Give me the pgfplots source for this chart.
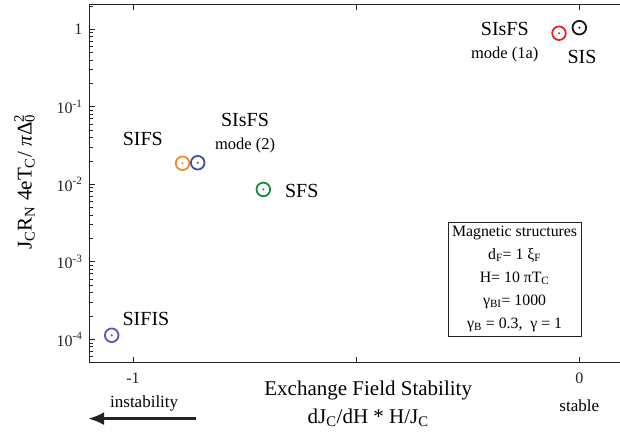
\documentclass[border=0pt]{standalone}
\usepackage{pgfplots}
\pgfplotsset{compat=1.18}
\usepackage{fontspec}
\setmainfont{Liberation Serif}
\usetikzlibrary{arrows.meta}

\definecolor{cSIS}{RGB}{25,25,25}
\definecolor{cSIsFSa}{RGB}{232,30,40}
\definecolor{cSIFS}{RGB}{242,140,40}
\definecolor{cSIsFSb}{RGB}{60,78,168}
\definecolor{cSFS}{RGB}{26,135,66}
\definecolor{cSIFIS}{RGB}{105,80,175}
\definecolor{ink}{RGB}{35,35,35}

% open circle with a dot in the centre
\pgfdeclareplotmark{odot}{%
  \pgfpathcircle{\pgfpointorigin}{\pgfplotmarksize}\pgfusepathqstroke
  \pgfpathcircle{\pgfpointorigin}{1.1pt}\pgfusepathqfill}

\newcommand{\lblfont}{\fontsize{20}{24}\selectfont}
\newcommand{\titlefont}{\fontsize{21}{25}\selectfont}
\newcommand{\modefont}{\fontsize{16.5}{20}\selectfont}
\newcommand{\tickfont}{\fontsize{16}{19}\selectfont}
\newcommand{\notefont}{\fontsize{17}{20}\selectfont}
\newcommand{\boxfont}{\fontsize{15.8}{23}\selectfont}

\begin{document}
\begin{tikzpicture}
\begin{axis}[
  name=main,
  at={(0,0)}, anchor=south west,
  scale only axis, width=532pt, height=358.7pt,
  xmin=-1.0986, xmax=0.0934,
  ymode=log, ymin=5.0e-5, ymax=2.12,
  clip=false,
  axis line style={line width=0.8pt, color=ink},
  xtick={-1,-0.5,0}, xticklabels={-1,{},0},
  ytick={1e-4,1e-3,1e-2,1e-1,1},
  yticklabels={10\textsuperscript{-4},10\textsuperscript{-3},10\textsuperscript{-2},10\textsuperscript{-1},1},
  minor ytick={5e-5,6e-5,7e-5,8e-5,9e-5,
               2e-4,3e-4,4e-4,5e-4,6e-4,7e-4,8e-4,9e-4,
               2e-3,3e-3,4e-3,5e-3,6e-3,7e-3,8e-3,9e-3,
               2e-2,3e-2,4e-2,5e-2,6e-2,7e-2,8e-2,9e-2,
               0.2,0.3,0.4,0.5,0.6,0.7,0.8,0.9,2},
  ytick pos=left,
  tick style={line width=0.8pt, color=ink},
  major tick length=6pt, minor tick length=4pt,
  tick align=inside,
  ticklabel style={font=\tickfont, text=ink},
  yticklabel style={xshift=-3pt},
  xticklabel style={yshift=-7pt},
  mark size=6.8pt,
  every node/.append style={text=ink},
]
\addplot[only marks, color=cSIS, mark=odot, mark options={line width=1.8pt}] coordinates {(0.0, 1.05)};
\addplot[only marks, color=cSIsFSa, mark=odot, mark options={line width=1.8pt}] coordinates {(-0.0455, 0.89)};
\addplot[only marks, color=cSIFS, mark=odot, mark options={line width=1.8pt}] coordinates {(-0.889, 0.0187)};
\addplot[only marks, color=cSIsFSb, mark=odot, mark options={line width=1.8pt}] coordinates {(-0.855, 0.0190)};
\addplot[only marks, color=cSFS, mark=odot, mark options={line width=1.8pt}] coordinates {(-0.708, 0.0086)};
\addplot[only marks, color=cSIFIS, mark=odot, mark options={line width=1.8pt}] coordinates {(-1.0477, 1.13e-4)};

% structure labels
\node[font=\lblfont] at (axis cs:-0.167,1.02) {SIsFS};
\node[font=\modefont] at (axis cs:-0.167,0.473) {mode (1a)};
\node[font=\lblfont] at (axis cs:0.006,0.439) {SIS};
\node[font=\lblfont] at (axis cs:-0.978,0.0384) {SIFS};
\node[font=\lblfont] at (axis cs:-0.749,0.0686) {SIsFS};
\node[font=\modefont] at (axis cs:-0.749,0.0314) {mode (2)};
\node[font=\lblfont] at (axis cs:-0.622,0.0082) {SFS};
\node[font=\lblfont] at (axis cs:-0.971,1.83e-4) {SIFIS};

% parameter box
\node[draw=ink, line width=0.8pt, fill=white, font=\boxfont, align=center,
      minimum width=133pt, minimum height=114pt, inner sep=2pt]
  at (axis cs:-0.145,6.0e-4)
  {Magnetic structures\\
   d\textsubscript{F}= 1 ξ\textsubscript{F}\\
   H= 10 πT\textsubscript{C}\\
   γ\textsubscript{BI}= 1000\\
   γ\textsubscript{B} = 0.3,\ \ γ = 1};

% axis titles
\node[font=\titlefont] at (axis cs:-0.473,2.18e-5) {Exchange Field Stability};
\node[font=\titlefont] at (axis cs:-0.473,9.8e-6) {dJ\textsubscript{C}/dH * H/J\textsubscript{C}};
\node[font=\notefont] at (axis cs:-0.975,1.507e-5) {instability};
\node[font=\notefont] at (axis cs:0.0,1.39e-5) {stable};
\draw[line width=3pt, color=ink, -{Latex[length=16pt,width=13pt]}]
  (axis cs:-0.859,9.5e-6) -- (axis cs:-1.1008,9.5e-6);
\node[font=\titlefont, rotate=90] at (axis cs:-1.2431,0.01071)
  {J\textsubscript{C}R\textsubscript{N} 4eT\textsubscript{C}/ \textit{π}Δ\rlap{\textsuperscript{2}}\textsubscript{0}};
\end{axis}
\pgfresetboundingbox
\useasboundingbox (-89pt,-68.3pt) rectangle (531pt,362.7pt);
\end{tikzpicture}
\end{document}
